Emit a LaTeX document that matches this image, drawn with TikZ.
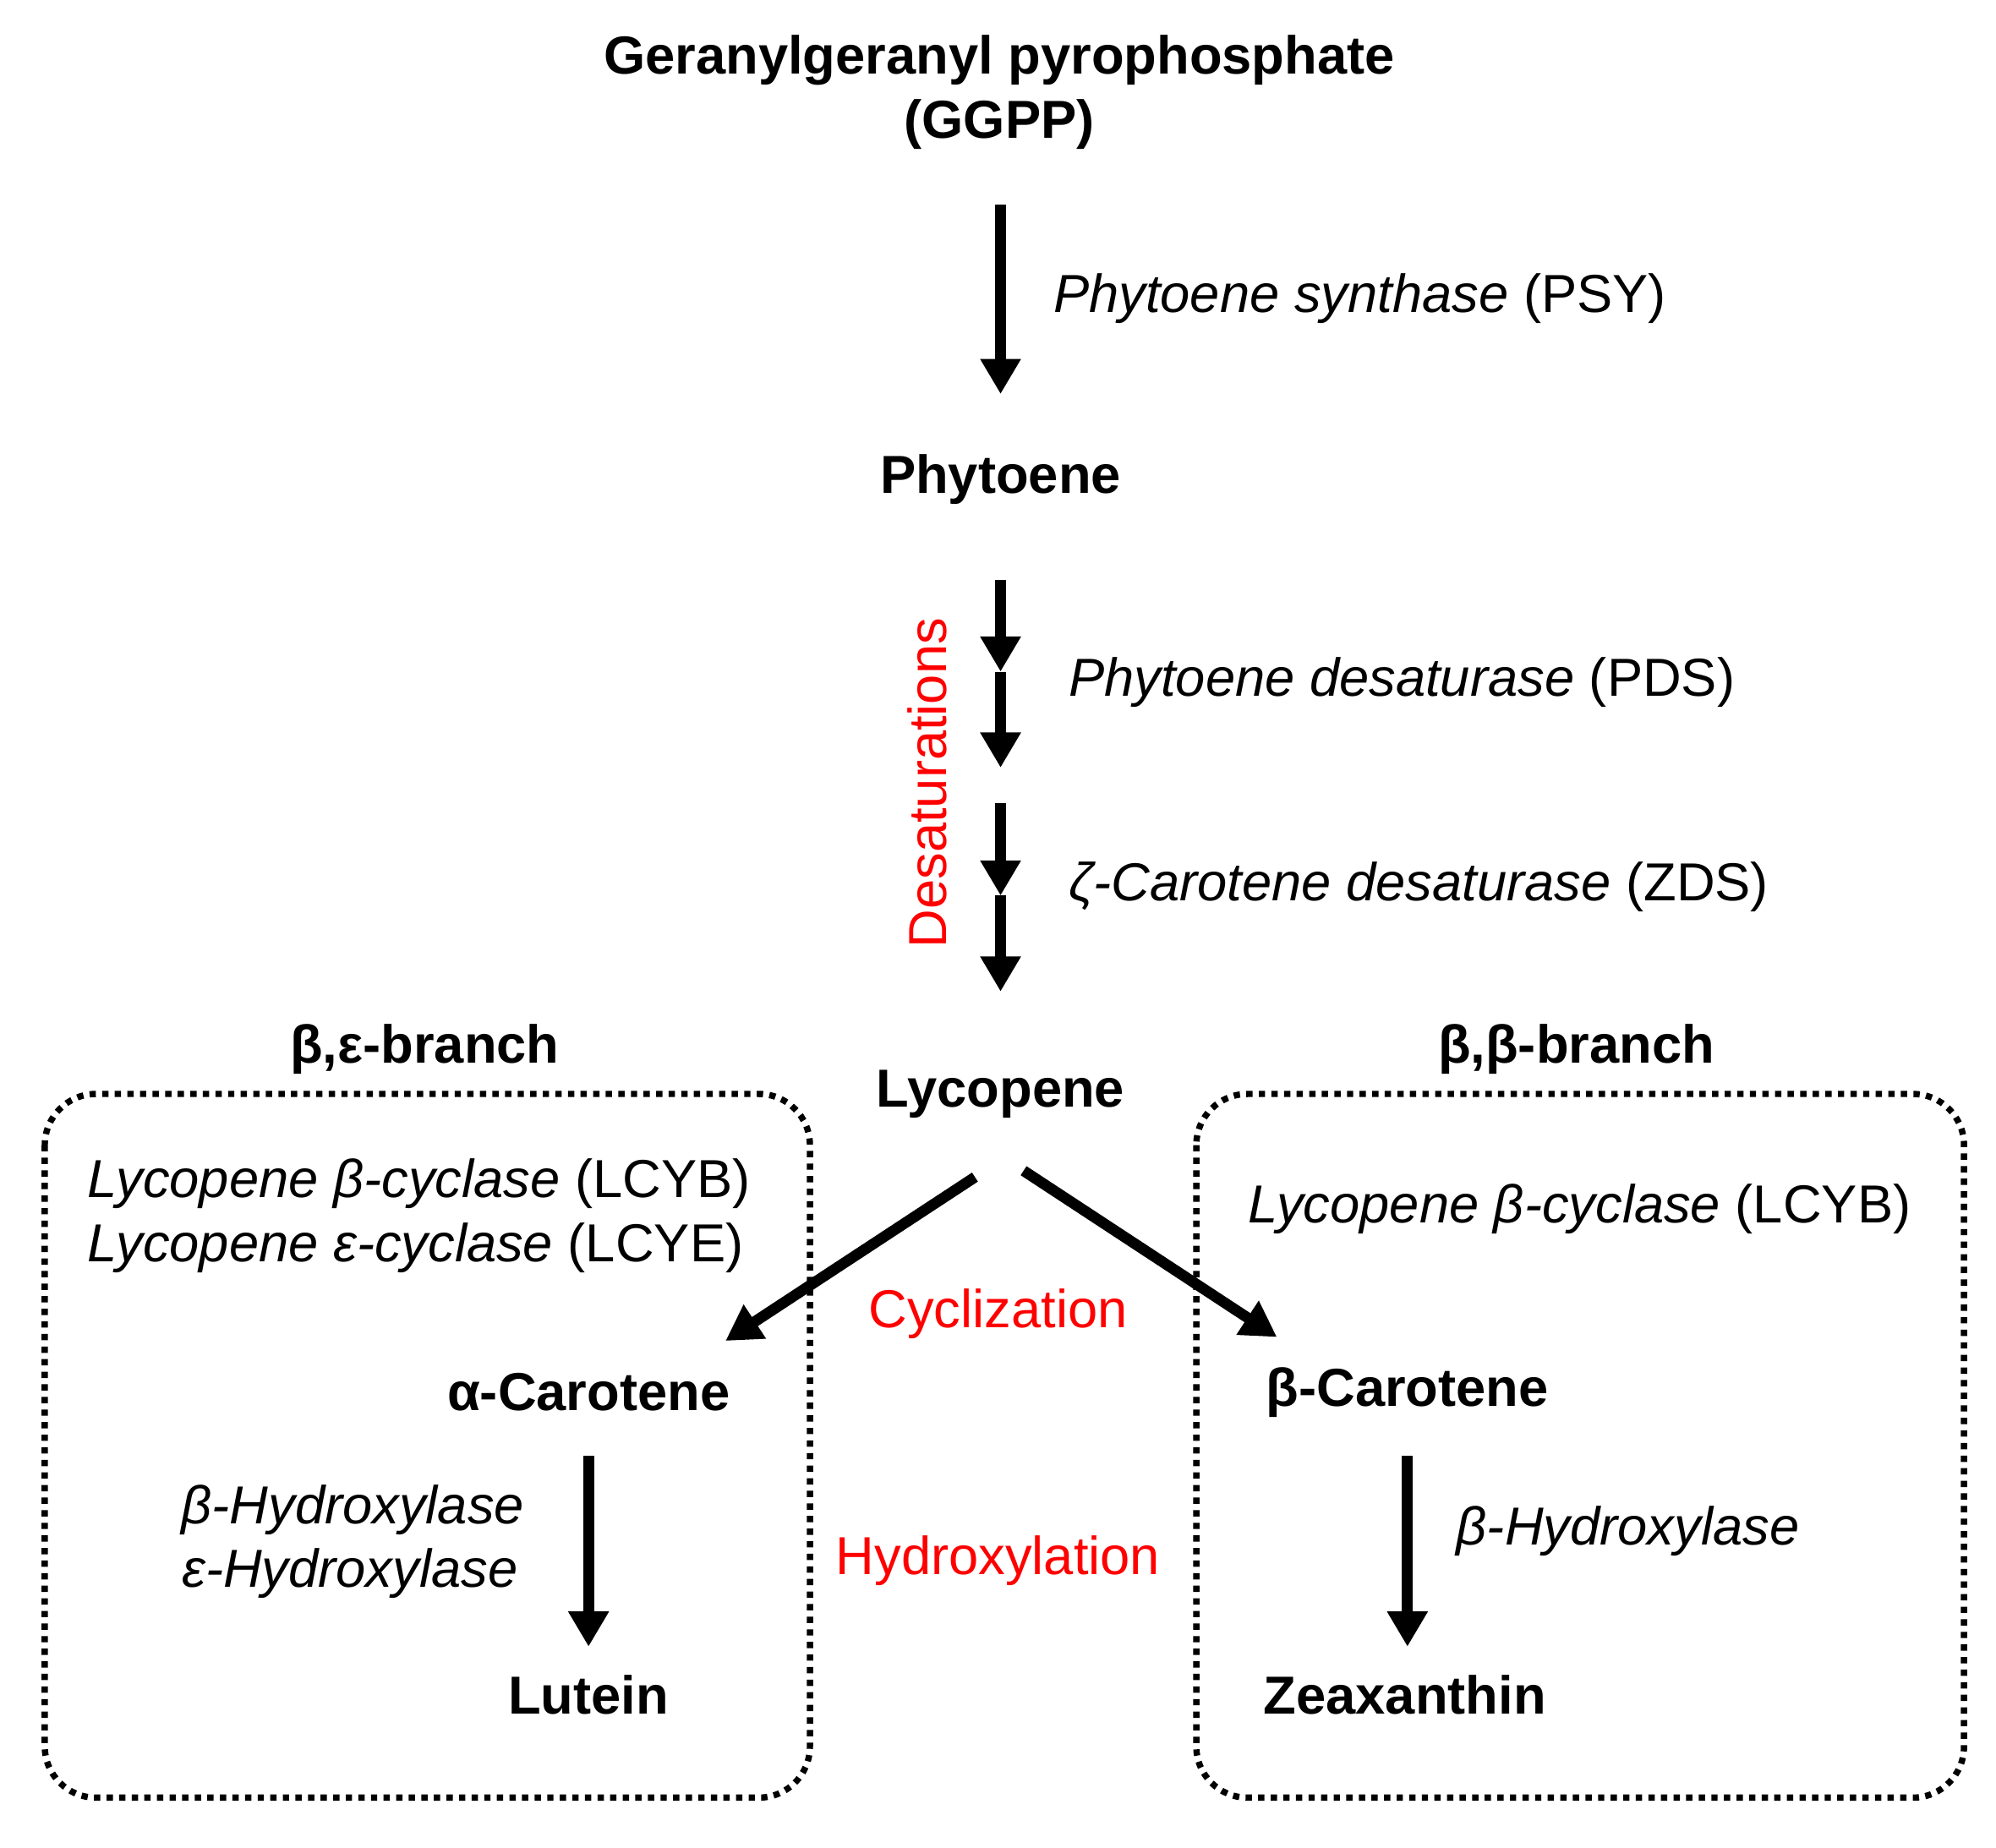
\documentclass[tikz,border=0pt]{standalone}
\usepackage{fontspec}
\setmainfont{Liberation Sans}
\usetikzlibrary{arrows.meta}
\begin{document}
\begin{tikzpicture}[x=0.02cm,y=-0.02cm,
  met/.style={font=\fontsize{23.8}{28.5}\selectfont\bfseries},
  enz/.style={font=\fontsize{23.8}{28.5}\selectfont,inner sep=0pt},
  red/.style={font=\fontsize{23.8}{28.5}\selectfont,text=red},
  arr/.style={line width=4.8pt,-{Triangle[length=0.55cm,width=0.6cm]}},
  box/.style={line width=2.8pt,dash pattern=on 2.8pt off 2.8pt,rounded corners=0.8cm}]
\useasboundingbox (0,0) rectangle (1560,1444);
\node[met,align=center] (ggpp) at (781,72) {Geranylgeranyl pyrophosphate\\(GGPP)};
\node[met] (phy) at (782,375) {Phytoene};
\node[met] (lyc) at (782,855) {Lycopene};
\node[met] (ac) at (460,1088) {α-Carotene};
\node[met] (bc) at (1100,1088) {β-Carotene};
\node[met] (lut) at (460,1325) {Lutein};
\node[met] (zea) at (1098,1325) {Zeaxanthin};
\node[met] (lb) at (332,820) {β,ε-branch};
\node[met] (rb) at (1232,820) {β,β-branch};
\node[enz,anchor=west] (psy) at (823,233) {\textit{Phytoene synthase} (PSY)};
\node[enz,anchor=west] (pds) at (835,533) {\textit{Phytoene desaturase} (PDS)};
\node[enz,anchor=west] (zds) at (835,693) {\textit{ζ-Carotene desaturase} (ZDS)};
\node[enz,anchor=west] (lcyb) at (68,925) {\textit{Lycopene β-cyclase} (LCYB)};
\node[enz,anchor=west] (lcye) at (68,975) {\textit{Lycopene ε-cyclase} (LCYE)};
\node[enz,anchor=west] (lcyb2) at (975,945) {\textit{Lycopene β-cyclase} (LCYB)};
\node[enz,anchor=east] (bh) at (410,1180) {\textit{β-Hydroxylase}};
\node[enz,anchor=east] (eh) at (405,1230) {\textit{ε-Hydroxylase}};
\node[enz,anchor=west] (bh2) at (1138,1197) {\textit{β-Hydroxylase}};
\node[red,rotate=90] (des) at (725,612) {Desaturations};
\node[red] (cyc) at (780,1027) {Cyclization};
\node[red] (hyd) at (780,1220) {Hydroxylation};
\draw[box] (35,855) rectangle (633,1405);
\draw[box] (935,855) rectangle (1535,1405);
\coordinate (a1) at (782,160); \coordinate (a2) at (782,308);
\coordinate (b1) at (782,453); \coordinate (b2) at (782,525); \coordinate (b3) at (782,600);
\coordinate (c1) at (782,628); \coordinate (c2) at (782,700); \coordinate (c3) at (782,775);
\coordinate (l1) at (762,920); \coordinate (l2) at (567,1048);
\coordinate (r1) at (800,915); \coordinate (r2) at (998,1045);
\coordinate (h1) at (460,1138); \coordinate (h2) at (460,1287);
\coordinate (k1) at (1100,1138); \coordinate (k2) at (1100,1287);
\draw[arr] (a1) -- (a2);
\draw[arr] (b1) -- (b2); \draw[arr] (b2) -- (b3);
\draw[arr] (c1) -- (c2); \draw[arr] (c2) -- (c3);
\draw[arr] (l1) -- (l2);
\draw[arr] (r1) -- (r2);
\draw[arr] (h1) -- (h2);
\draw[arr] (k1) -- (k2);
\end{tikzpicture}
\end{document}
